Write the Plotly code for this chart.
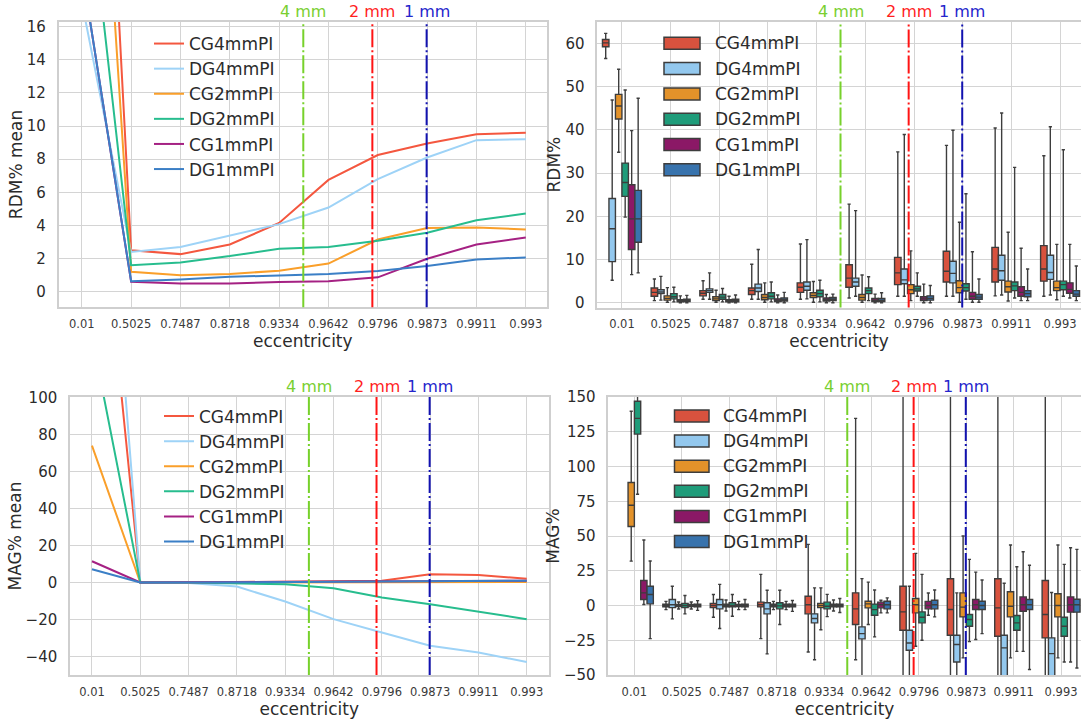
import plotly.graph_objects as go

W, H = 1081, 720

# ---------------- data ----------------
ecc = ["0.01", "0.5025", "0.7487", "0.8718", "0.9334", "0.9642", "0.9796", "0.9873", "0.9911", "0.993"]
series = ["CG4mmPI", "DG4mmPI", "CG2mmPI", "DG2mmPI", "CG1mmPI", "DG1mmPI"]

# RDM% mean (line chart, top-left)
rdm_mean_CG4 = [59, 2.5, 2.27, 2.85, 4.15, 6.75, 8.25, 8.95, 9.5, 9.6]
rdm_mean_DG4 = [17.5, 2.4, 2.7, 3.4, 4.08, 5.08, 6.8, 8.1, 9.15, 9.2]
rdm_mean_CG2 = [47, 1.2, 1.0, 1.07, 1.27, 1.7, 3.15, 3.85, 3.88, 3.76]
rdm_mean_DG2 = [28, 1.6, 1.77, 2.15, 2.6, 2.7, 3.08, 3.56, 4.32, 4.72]
rdm_mean_CG1 = [19.5, 0.6, 0.5, 0.5, 0.58, 0.64, 0.87, 1.99, 2.85, 3.28]
rdm_mean_DG1 = [19.5, 0.64, 0.74, 0.9, 0.98, 1.07, 1.25, 1.55, 1.95, 2.07]

# MAG% mean (line chart, bottom-left)
mag_mean_CG4 = [260, 0, 0, 0.2, 0.3, 0.5, 1.0, 4.5, 4.1, 2.0]
mag_mean_DG4 = [330, 0, -0.2, -2.2, -10.3, -19.8, -27, -34.2, -37.8, -43]
mag_mean_CG2 = [74, 0, 0, 0, 0.1, 0.2, 0.3, 0.4, 0.4, 0.3]
mag_mean_DG2 = [133, 0, 0, -0.3, -0.9, -3.1, -8.1, -11.7, -15.7, -19.8]
mag_mean_CG1 = [11.5, 0, 0.1, 0.2, 0.3, 0.4, 0.5, 0.6, 0.8, 1.0]
mag_mean_DG1 = [7.2, 0, 0, 0.1, 0.2, 0.3, 0.4, 0.5, 0.8, 1.0]

# RDM% box statistics (top-right)
rdm_CG4_q1 = [59.2, 1.5, 1.6, 1.9, 2.4, 3.6, 4.2, 4.8, 4.8, 5.0]
rdm_CG4_med = [60.1, 2.4, 2.2, 2.8, 3.6, 5.7, 6.9, 7.3, 7.8, 7.8]
rdm_CG4_q3 = [60.9, 3.4, 2.8, 3.4, 4.6, 8.8, 10.5, 11.9, 12.8, 13.2]
rdm_CG4_lo = [56.5, 0.5, 0.8, 0.8, 0.8, 1.1, 1.5, 1.5, 1.6, 1.5]
rdm_CG4_hi = [62.3, 5.5, 5.1, 8.9, 13.6, 22.8, 34.9, 36.4, 40.4, 34.0]

rdm_DG4_q1 = [9.5, 2.1, 2.4, 2.6, 2.9, 3.8, 4.4, 4.6, 5.2, 5.4]
rdm_DG4_med = [17.1, 2.5, 2.8, 3.4, 3.8, 4.8, 5.3, 6.8, 7.4, 7.0]
rdm_DG4_q3 = [24.1, 3.0, 3.2, 4.3, 4.8, 5.7, 7.8, 9.6, 11.0, 11.0]
rdm_DG4_lo = [5.2, 0.6, 0.8, 0.8, 0.9, 1.5, 1.5, 1.5, 1.8, 1.8]
rdm_DG4_hi = [46.9, 6.1, 6.9, 12.3, 14.6, 21.3, 38.9, 39.9, 43.9, 40.7]

rdm_CG2_q1 = [42.5, 0.6, 0.5, 0.7, 1.2, 0.6, 2.1, 2.3, 2.5, 2.8]
rdm_CG2_med = [45.5, 1.0, 0.9, 1.2, 1.7, 1.2, 3.0, 3.5, 3.7, 3.5]
rdm_CG2_q3 = [48.2, 1.6, 1.4, 1.9, 2.3, 1.9, 4.2, 5.1, 5.0, 5.0]
rdm_CG2_lo = [34.8, 0.1, 0.1, 0.1, 0.1, 0.1, 0.5, 0.1, 0.4, 0.7]
rdm_CG2_hi = [54.0, 3.5, 2.9, 4.6, 4.9, 6.4, 12.0, 18.6, 16.3, 13.5]

rdm_DG2_q1 = [24.6, 0.9, 0.8, 0.9, 1.4, 2.1, 2.7, 2.7, 2.8, 3.0]
rdm_DG2_med = [27.8, 1.4, 1.3, 1.5, 2.1, 2.8, 3.2, 3.5, 3.9, 4.2]
rdm_DG2_q3 = [32.3, 2.1, 1.9, 2.3, 2.9, 3.4, 3.8, 4.4, 4.8, 5.0]
rdm_DG2_lo = [19.8, 0.2, 0.2, 0.2, 0.2, 0.5, 1.5, 0.8, 1.1, 1.5]
rdm_DG2_hi = [49.2, 3.6, 3.3, 4.8, 5.2, 6.0, 6.9, 25.2, 31.3, 35.4]

rdm_CG1_q1 = [12.3, 0.2, 0.2, 0.3, 0.4, 0.3, 0.5, 0.8, 1.5, 2.2]
rdm_CG1_med = [19.4, 0.4, 0.4, 0.5, 0.7, 0.6, 0.9, 1.5, 2.4, 3.1]
rdm_CG1_q3 = [27.3, 0.7, 0.7, 0.9, 1.1, 1.0, 1.4, 2.4, 3.7, 4.6]
rdm_CG1_lo = [6.5, 0.0, 0.0, 0.0, 0.0, 0.0, 0.0, 0.1, 0.5, 1.1]
rdm_CG1_hi = [39.8, 1.6, 1.5, 1.8, 1.9, 2.0, 4.3, 11.8, 12.6, 13.5]

rdm_DG1_q1 = [14.0, 0.3, 0.2, 0.4, 0.5, 0.3, 0.6, 0.8, 1.4, 1.5]
rdm_DG1_med = [19.4, 0.5, 0.5, 0.7, 0.8, 0.6, 1.0, 1.3, 2.1, 2.0]
rdm_DG1_q3 = [26.0, 0.8, 0.8, 1.1, 1.2, 1.0, 1.6, 1.9, 2.8, 2.8]
rdm_DG1_lo = [6.9, 0.0, 0.0, 0.0, 0.0, 0.0, 0.0, 0.1, 0.5, 0.5]
rdm_DG1_hi = [47.3, 1.7, 1.8, 2.4, 2.0, 2.3, 4.0, 5.5, 7.8, 8.5]

# MAG% box statistics (bottom-right)
mag_CG4_q1 = [200, -1, -1.5, -1, -6, -13.7, -17.8, -21.4, -22.1, -23.3]
mag_CG4_med = [250, 0, 0, 0.5, 0.5, -2.4, -4.6, -2.9, -1.7, -6.5]
mag_CG4_q3 = [300, 1, 1.5, 2.4, 6.7, 9.1, 13.9, 19.2, 19.2, 18.0]
mag_CG4_lo = [160, -3, -8.4, -23.8, -33.4, -39, -60, -60, -60, -60]
mag_CG4_hi = [400, 3, 7.9, 22.4, 44, 134.6, 200, 200, 200, 200]

mag_DG4_q1 = [250, -1.5, -2.4, -6, -12.5, -24, -32.2, -40.6, -55, -58]
mag_DG4_med = [320, 0.5, 0.5, -2.4, -9.4, -20.2, -27, -28.1, -30.5, -34.6]
mag_DG4_q3 = [400, 4.3, 4.3, 2, -6, -15.4, -17.8, -21.4, -21.4, -23.3]
mag_DG4_lo = [170, -9.6, -16.6, -34.8, -39, -52, -60, -60, -75, -80]
mag_DG4_hi = [500, 13.9, 15.2, 11, 12.7, 19.3, 13.9, 9.1, 16, 9.3]

mag_CG2_q1 = [56.8, -0.8, -1, -1, -1.5, -1.7, -5.3, -8.2, -8.2, -8.2]
mag_CG2_med = [72.1, 0, 0, 0, 0, 1.2, 0.5, -1.2, -0.5, 0]
mag_CG2_q3 = [88.5, 0.8, 1, 1, 1.5, 3.1, 5, 9.1, 9.9, 8.4]
mag_CG2_lo = [31.9, -2.5, -4, -3, -17.5, -13.7, -29.3, -37.7, -37.7, -37.7]
mag_CG2_hi = [139.7, 2.5, 4, 3, 12.7, 16.8, 37.5, 50, 43.5, 43.5]

mag_DG2_q1 = [123.3, -1.5, -1, -2.4, -2.4, -7, -12.5, -14.9, -17.8, -22.1]
mag_DG2_med = [134.6, 0, 0, -0.3, -0.5, -3, -8.4, -10.1, -12.5, -14.9]
mag_DG2_q3 = [146.9, 1.5, 2, 2, 2.4, 1, -4.6, -6.5, -7.2, -8.4]
mag_DG2_lo = [80, -6, -7.7, -13.7, -8, -22.6, -25, -26, -33, -40.6]
mag_DG2_hi = [152, 7.2, 7.9, 11, 8, 11.1, 22.4, 33.2, 27.9, 29.6]

mag_CG1_q1 = [4.3, -0.8, -0.8, -1, -1, -1.7, -2.4, -2.9, -4.1, -4.8]
mag_CG1_med = [9.1, 0, 0, 0, 0, 0.5, 0, 0.5, 0.5, 0.5]
mag_CG1_q3 = [18.0, 0.8, 0.8, 1, 1, 2.4, 3, 4.3, 6.2, 6.2]
mag_CG1_lo = [0.7, -2.5, -3, -3, -4, -5.3, -7, -24.5, -33, -40.6]
mag_CG1_hi = [47.1, 2.5, 3, 3, 4, 3.8, 9, 24, 38.7, 41.6]

mag_DG1_q1 = [1.2, -1, -1, -1, -1, -2.4, -2.4, -2.9, -2.9, -4.8]
mag_DG1_med = [7.9, 0, 0, 0, 0, 0.5, 0.5, 0, 0.5, 0.5]
mag_DG1_q3 = [13.9, 1, 1, 1, 1, 3.1, 3.8, 3.1, 4.3, 4.5]
mag_DG1_lo = [-23.8, -3.5, -3, -4.2, -5, -5.3, -8.2, -20.2, -46, -45]
mag_DG1_hi = [32, 3.5, 4.3, 3.6, 5, 5.5, 11.1, 18.3, 29, 40.4]

# reference lines (position on the category index axis)
ref_labels = ["4 mm", "2 mm", "1 mm"]
ref_pos = [4.49, 5.89, 6.99]

# ---------------- styles ----------------
line_colors = ["#f4573f", "#9ed3f7", "#fa9f2a", "#27bd8e", "#a52183", "#3b7fc6"]
box_colors = ["#d8523e", "#93c8ee", "#e3922a", "#1f9c7a", "#8b1866", "#3873ad"]
ref_line_colors = ["#77d12b", "#ff1414", "#1212b0"]
ref_text_colors = ["#7acf31", "#ff1f1f", "#2525cc"]
TXT = "#2b2b2b"
GRID = "#d4d4d4"
FRAME = "#cfcfcf"
FONT = "DejaVu Sans"


def px(x):
    return x / W


def py(y):
    return 1 - y / H


rdm_means = [rdm_mean_CG4, rdm_mean_DG4, rdm_mean_CG2, rdm_mean_DG2, rdm_mean_CG1, rdm_mean_DG1]
mag_means = [mag_mean_CG4, mag_mean_DG4, mag_mean_CG2, mag_mean_DG2, mag_mean_CG1, mag_mean_DG1]
rdm_box = [
    (rdm_CG4_q1, rdm_CG4_med, rdm_CG4_q3, rdm_CG4_lo, rdm_CG4_hi),
    (rdm_DG4_q1, rdm_DG4_med, rdm_DG4_q3, rdm_DG4_lo, rdm_DG4_hi),
    (rdm_CG2_q1, rdm_CG2_med, rdm_CG2_q3, rdm_CG2_lo, rdm_CG2_hi),
    (rdm_DG2_q1, rdm_DG2_med, rdm_DG2_q3, rdm_DG2_lo, rdm_DG2_hi),
    (rdm_CG1_q1, rdm_CG1_med, rdm_CG1_q3, rdm_CG1_lo, rdm_CG1_hi),
    (rdm_DG1_q1, rdm_DG1_med, rdm_DG1_q3, rdm_DG1_lo, rdm_DG1_hi),
]
mag_box = [
    (mag_CG4_q1, mag_CG4_med, mag_CG4_q3, mag_CG4_lo, mag_CG4_hi),
    (mag_DG4_q1, mag_DG4_med, mag_DG4_q3, mag_DG4_lo, mag_DG4_hi),
    (mag_CG2_q1, mag_CG2_med, mag_CG2_q3, mag_CG2_lo, mag_CG2_hi),
    (mag_DG2_q1, mag_DG2_med, mag_DG2_q3, mag_DG2_lo, mag_DG2_hi),
    (mag_CG1_q1, mag_CG1_med, mag_CG1_q3, mag_CG1_lo, mag_CG1_hi),
    (mag_DG1_q1, mag_DG1_med, mag_DG1_q3, mag_DG1_lo, mag_DG1_hi),
]

fig = go.Figure()

# line charts
for name, col, ys in zip(series, line_colors, rdm_means):
    fig.add_trace(go.Scatter(x=ecc, y=ys, mode="lines", name=name, line=dict(color=col, width=2),
                             xaxis="x", yaxis="y", legend="legend"))
for name, col, ys in zip(series, line_colors, mag_means):
    fig.add_trace(go.Scatter(x=ecc, y=ys, mode="lines", name=name, line=dict(color=col, width=2),
                             xaxis="x3", yaxis="y3", legend="legend2"))

# box charts
for (xa, ya, stats) in [("x2", "y2", rdm_box), ("x4", "y4", mag_box)]:
    for name, col, (q1, med, q3, lo, hi) in zip(series, box_colors, stats):
        fig.add_trace(go.Box(x=ecc, q1=q1, median=med, q3=q3, lowerfence=lo, upperfence=hi,
                             name=name, fillcolor=col, line=dict(color="#3d3d3d", width=1.4),
                             whiskerwidth=0.5, boxpoints=False, showlegend=False,
                             xaxis=xa, yaxis=ya, offsetgroup=name))

# ---------------- axes ----------------
def xax(domain, rng, anchor):
    return dict(domain=domain, range=rng, anchor=anchor, type="category",
                showgrid=True, gridcolor=GRID, gridwidth=1.2,
                showline=True, mirror=True, linecolor=FRAME, linewidth=1.5, zeroline=False,
                tickfont=dict(size=11.5, color="#3a3a3a", family=FONT), ticks="",
                ticklabelstandoff=5, automargin=False,
                title=dict(text="eccentricity", font=dict(size=17, color=TXT, family=FONT), standoff=0))


def yax(domain, rng, dtick, anchor, title, mirror=True):
    return dict(domain=domain, range=rng, anchor=anchor, dtick=dtick, tick0=0,
                showgrid=True, gridcolor=GRID, gridwidth=1.2,
                showline=True, mirror=mirror, linecolor=FRAME, linewidth=1.5, zeroline=False,
                tickfont=dict(size=15, color=TXT, family=FONT), ticks="", ticklabelstandoff=8,
                automargin=False,
                title=dict(text=title, font=dict(size=17, color=TXT, family=FONT), standoff=0))


TL = ([px(58.6), px(547)], [py(307.3), py(21.7)])
TR = ([px(597.3), 1.0], [py(307.5), py(21.7)])
BL = ([px(70), px(548.5)], [py(675), py(397)])
BR = ([px(608.3), 1.0], [py(675), py(397)])

layout = dict(
    width=W, height=H, margin=dict(l=0, r=0, t=0, b=0, autoexpand=False),
    paper_bgcolor="white", plot_bgcolor="white",
    font=dict(family=FONT, color=TXT),
    boxmode="group", boxgap=0.2, boxgroupgap=0.0,
    xaxis=xax(TL[0], [-0.47, 9.43], "y"),
    yaxis=yax(TL[1], [-0.94, 16.3], 2, "x", "RDM% mean"),
    xaxis2=xax(TR[0], [-0.506, 9.43], "y2"),
    yaxis2=yax(TR[1], [-1.1, 65], 10, "x2", "RDM%", mirror=False),
    xaxis3=xax(BL[0], [-0.455, 9.45], "y3"),
    yaxis3=yax(BL[1], [-50, 100.3], 20, "x3", "MAG% mean"),
    xaxis4=xax(BR[0], [-0.55, 9.42], "y4"),
    yaxis4=yax(BR[1], [-50, 150], 25, "x4", "MAG%", mirror=False),
    legend=dict(x=px(149), y=py(26), xanchor="left", yanchor="top", bgcolor="rgba(0,0,0,0)",
                font=dict(size=17, color=TXT, family=FONT), borderwidth=0, tracegroupgap=0),
    legend2=dict(x=px(159), y=py(398.5), xanchor="left", yanchor="top", bgcolor="rgba(0,0,0,0)",
                 font=dict(size=17, color=TXT, family=FONT), borderwidth=0, tracegroupgap=0),
)
fig.update_layout(**layout)

# reference lines + labels
shapes = []
annotations = []
for xa, ya in [("x", "y"), ("x2", "y2"), ("x3", "y3"), ("x4", "y4")]:
    for lab, pos, lc, tc in zip(ref_labels, ref_pos, ref_line_colors, ref_text_colors):
        shapes.append(dict(type="line", xref=xa, yref=ya + " domain", x0=pos, x1=pos, y0=0, y1=1,
                           line=dict(color=lc, width=2, dash="18px,3px,2px,3px")))
        annotations.append(dict(text=lab, xref=xa, yref=ya + " domain", x=pos, y=1, yanchor="bottom",
                                xanchor="center", showarrow=False, yshift=-1,
                                font=dict(size=16, color=tc, family=FONT)))

# legends for the box charts
for (rx0, rx1, tx, y0, step) in [(664, 700, 713, 43.3, 25.3), (674.5, 709, 721, 416, 25.1)]:
    for i, (name, col) in enumerate(zip(series, box_colors)):
        c = y0 + i * step
        shapes.append(dict(type="rect", xref="paper", yref="paper", x0=px(rx0), x1=px(rx1),
                           y0=py(c + 6), y1=py(c - 6), fillcolor=col,
                           line=dict(color="#3d3d3d", width=1.5)))
        annotations.append(dict(text=name, xref="paper", yref="paper", x=px(tx), y=py(c),
                                xanchor="left", yanchor="middle", showarrow=False,
                                font=dict(size=17, color=TXT, family=FONT)))

fig.update_layout(shapes=shapes, annotations=annotations)
fig.write_html("out.html", config={"displayModeBar": False},
               post_script="document.body.style.margin='0';document.body.style.overflow='hidden';")
